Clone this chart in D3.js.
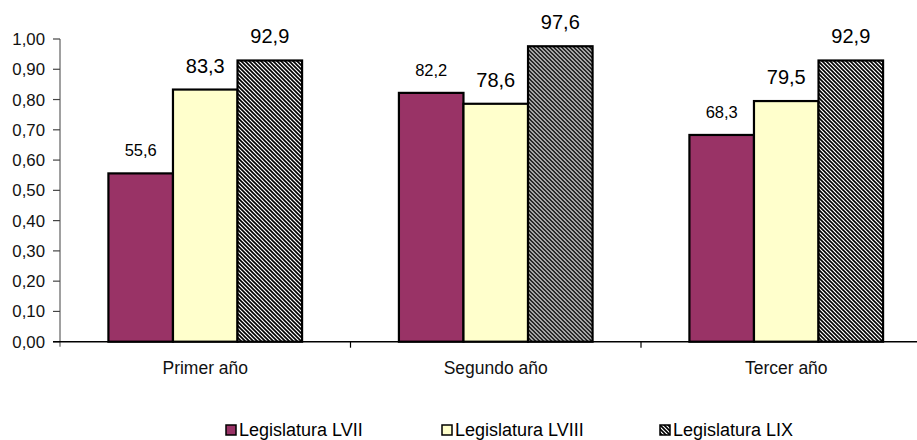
<!DOCTYPE html>
<html>
<head>
<meta charset="utf-8">
<script src="https://cdn.jsdelivr.net/npm/d3@7/dist/d3.min.js"></script>
<style>
  html, body { margin: 0; padding: 0; background: #fff; }
  svg { display: block; font-family: "Liberation Sans", Arial, sans-serif; }
</style>
</head>
<body>
<svg id="chart" width="917" height="440"></svg>
<script>
// Categories and series (percent values)
const categories = ["Primer año", "Segundo año", "Tercer año"];
const seriesNames = ["Legislatura LVII", "Legislatura LVIII", "Legislatura LIX"];
const lvii  = [55.6, 82.2, 68.3];
const lviii = [83.3, 78.6, 79.5];
const lix   = [92.9, 97.6, 92.9];
const yTicks = [0, 0.1, 0.2, 0.3, 0.4, 0.5, 0.6, 0.7, 0.8, 0.9, 1.0];

const seriesValues = [lvii, lviii, lix];

const svg = d3.select("#chart");

// hatch pattern for the third series
const defs = svg.append("defs");
const pat = defs.append("pattern")
  .attr("id", "hatch")
  .attr("patternUnits", "userSpaceOnUse")
  .attr("width", 4).attr("height", 4);
pat.append("rect").attr("width", 4).attr("height", 4).attr("fill", "#fff");
pat.append("path")
  .attr("d", "M-1,-1 L5,5 M3,-1 L5,1 M-1,3 L1,5")
  .attr("stroke", "#000").attr("stroke-width", 1.6);

const fills = ["#993366", "#FFFFCC", "url(#hatch)"];

const plotLeft = 60, plotTop = 39, plotBottom = 341.7, bandStep = 290.5;

const x0 = d3.scaleBand()
  .domain(categories)
  .range([plotLeft, plotLeft + bandStep * categories.length])
  .paddingInner(0).paddingOuter(0);

const x1 = d3.scaleBand()
  .domain(seriesNames)
  .range([0, x0.bandwidth()])
  .paddingInner(0).paddingOuter(0.75);

const y = d3.scaleLinear().domain([0, 1]).range([plotBottom, plotTop]);

// y axis
const yAxis = svg.append("g").attr("transform", `translate(${plotLeft},0)`);
yAxis.append("line")
  .attr("x1", 0).attr("x2", 0)
  .attr("y1", y(1)).attr("y2", plotBottom + 5)
  .attr("stroke", "#808080").attr("stroke-width", 1.5);
yAxis.selectAll(".tick").data(yTicks).join("line")
  .attr("x1", -7).attr("x2", 0)
  .attr("y1", d => y(d)).attr("y2", d => y(d))
  .attr("stroke", "#444").attr("stroke-width", 1.2);
yAxis.selectAll(".lbl").data(yTicks).join("text")
  .attr("x", -15).attr("y", d => y(d)).attr("dy", "0.36em")
  .attr("text-anchor", "end")
  .attr("font-size", "16.8px").attr("fill", "#111")
  .text(d => d.toFixed(2).replace(".", ","));

// bars
const groups = svg.append("g").selectAll("g").data(categories).join("g")
  .attr("transform", d => `translate(${x0(d)},0)`);

groups.selectAll("rect")
  .data((c, i) => seriesNames.map((s, j) => ({ s, j, v: seriesValues[j][i] })))
  .join("rect")
  .attr("x", d => x1(d.s))
  .attr("width", x1.bandwidth())
  .attr("y", d => y(d.v / 100))
  .attr("height", d => plotBottom - y(d.v / 100))
  .attr("fill", d => fills[d.j])
  .attr("stroke", "#000").attr("stroke-width", 2.2);

// value labels
groups.selectAll("text")
  .data((c, i) => seriesNames.map((s, j) => ({ s, j, v: seriesValues[j][i] })))
  .join("text")
  .attr("x", d => x1(d.s) + x1.bandwidth() / 2)
  .attr("y", d => y(d.v / 100) - 17)
  .attr("text-anchor", "middle")
  .attr("font-size", d => d.j === 0 ? "16.5px" : "20px")
  .attr("fill", "#000")
  .text(d => d.v.toFixed(1).replace(".", ","));

// x axis
const xAxis = svg.append("g");
xAxis.append("line")
  .attr("x1", plotLeft - 7).attr("x2", 917)
  .attr("y1", plotBottom).attr("y2", plotBottom)
  .attr("stroke", "#000").attr("stroke-width", 1.5);
xAxis.selectAll(".sep").data(categories.slice(1)).join("line")
  .attr("x1", d => x0(d)).attr("x2", d => x0(d))
  .attr("y1", plotBottom).attr("y2", plotBottom + 6)
  .attr("stroke", "#000").attr("stroke-width", 1.2);
xAxis.selectAll(".cat").data(categories).join("text")
  .attr("x", d => x0(d) + x0.bandwidth() / 2)
  .attr("y", 374)
  .attr("text-anchor", "middle")
  .attr("font-size", "17.5px").attr("fill", "#111")
  .text(d => d);

// legend
const legendX = [226, 442, 660];
const legend = svg.append("g").selectAll("g").data(seriesNames).join("g")
  .attr("transform", (d, i) => `translate(${legendX[i]},425)`);
legend.append("rect")
  .attr("width", 10).attr("height", 10)
  .attr("fill", (d, i) => fills[i])
  .attr("stroke", "#000").attr("stroke-width", 1.5);
legend.append("text")
  .attr("x", 13).attr("y", 11)
  .attr("font-size", "18px").attr("fill", "#000")
  .text(d => d);
</script>
</body>
</html>
